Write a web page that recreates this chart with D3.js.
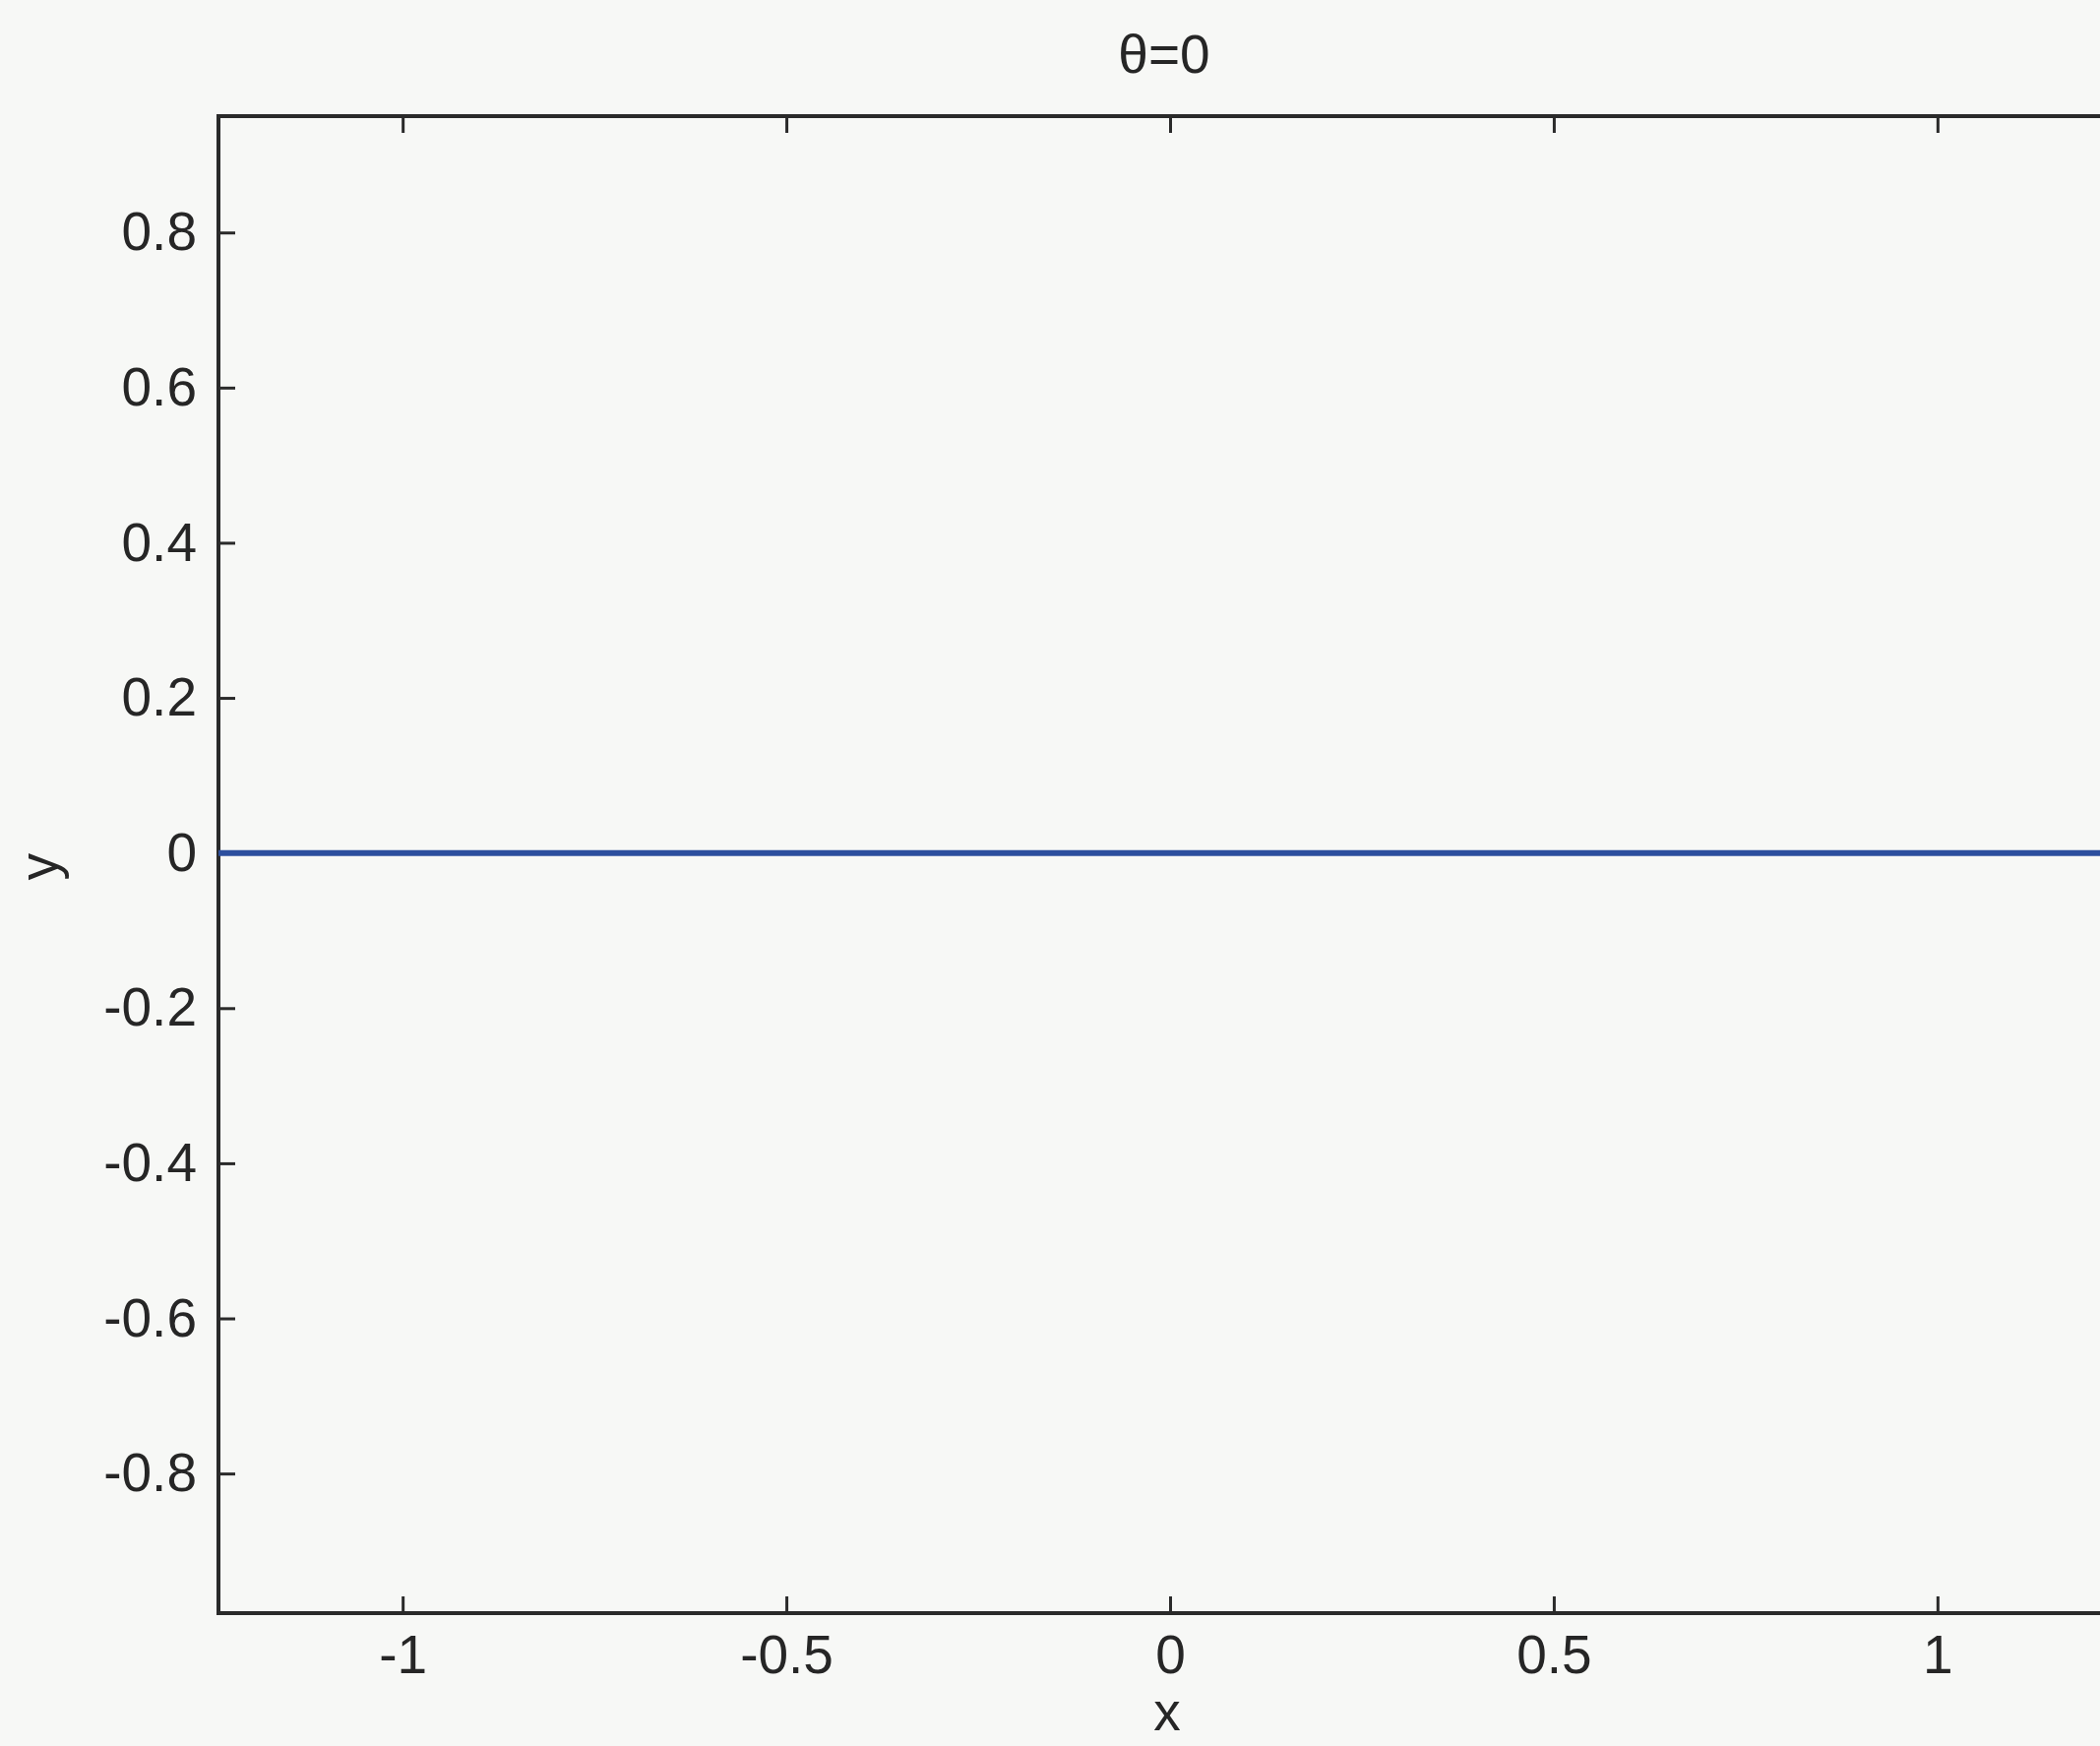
<!DOCTYPE html>
<html>
<head>
<meta charset="utf-8">
<script src="https://cdn.jsdelivr.net/npm/d3@7"></script>
<style>
  body { margin: 0; background: #f7f8f6; }
  #graf text { font-family: 'Liberation Sans', Arial, sans-serif; fill: #262626; }
</style>
</head>
<body>
<div id="graf"></div>
<script>
// -- Datos del gráfico
tituloTexto = 'θ=0'
xTicks = [-1, -0.5, 0, 0.5, 1]
yTicks = [-0.8, -0.6, -0.4, -0.2, 0, 0.2, 0.4, 0.6, 0.8]
xDominio = [-1.24, 1.24]
yDominio = [-0.98, 0.95]
trayX = [-1.24, 1.24]
trayY = [0, 0]

// -- Canvas
ancho_total = 2134
alto_total = 1774
margins = {top: 118, left: 222, right: -22, bottom: 135}
ancho = ancho_total - margins.left - margins.right
alto = alto_total - margins.top - margins.bottom

svg = d3.select('#graf').append('svg')
        .attr('width', ancho_total)
        .attr('height', alto_total)

svg.append('rect')
    .attr('width', ancho_total)
    .attr('height', alto_total)
    .attr('fill', '#f7f8f6')

g = svg.append('g')
       .attr('transform', `translate(${margins.left}, ${margins.top})`)

// -- Escaladores
x = d3.scaleLinear().domain(xDominio).range([0, ancho])
y = d3.scaleLinear().domain(yDominio).range([alto, 0])

fnt = 55
tick = 17
fmt = d => String(d)

// -- Ejes (ticks hacia dentro, en los cuatro lados)
ejes = [
  {ax: d3.axisBottom(x).tickValues(xTicks).tickFormat(fmt), t: `translate(0,${alto})`},
  {ax: d3.axisTop(x).tickValues(xTicks).tickFormat(''), t: 'translate(0,0)'},
  {ax: d3.axisLeft(y).tickValues(yTicks).tickFormat(fmt), t: 'translate(0,0)'},
  {ax: d3.axisRight(y).tickValues(yTicks).tickFormat(''), t: `translate(${ancho},0)`}
]
ejes.forEach(e => {
  a = g.append('g')
       .attr('transform', e.t)
       .call(e.ax.tickSizeInner(-tick).tickSizeOuter(0).tickPadding(22))
  a.select('.domain').remove()
  a.selectAll('line').attr('stroke', '#2a2a2a').attr('stroke-width', 3)
  a.selectAll('text').attr('font-size', `${fnt}px`).attr('fill', '#262626')
})

// -- Caja
g.append('rect')
    .attr('x', 0)
    .attr('y', 0)
    .attr('width', ancho)
    .attr('height', alto)
    .attr('fill', 'none')
    .attr('stroke', '#2a2a2a')
    .attr('stroke-width', 4)

// -- Trayectoria
linea = d3.line()
          .x((d, i) => x(trayX[i]))
          .y(d => y(d))
g.append('path')
    .datum(trayY)
    .attr('d', linea)
    .attr('fill', 'none')
    .attr('stroke', '#2c4f9e')
    .attr('stroke-width', 6)

// -- Título y etiquetas
svg.append('text')
    .attr('x', margins.left + x(0) - 6)
    .attr('y', 74)
    .attr('text-anchor', 'middle')
    .attr('font-size', `${fnt}px`)
    .text(tituloTexto)

svg.append('text')
    .attr('x', margins.left + x(0) - 3)
    .attr('y', 1758)
    .attr('text-anchor', 'middle')
    .attr('font-size', `${fnt}px`)
    .text('x')

svg.append('text')
    .attr('transform', `translate(58, ${margins.top + y(0) + 14}) rotate(-90)`)
    .attr('text-anchor', 'middle')
    .attr('font-size', `${fnt}px`)
    .text('y')
</script>
</body>
</html>
